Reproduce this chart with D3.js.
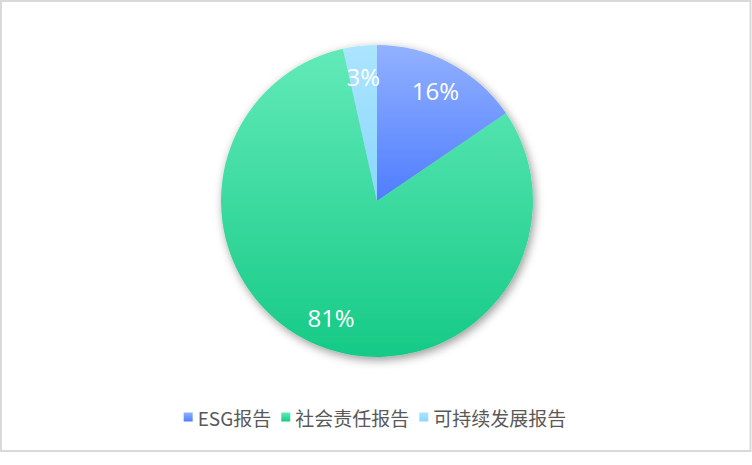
<!DOCTYPE html>
<html>
<head>
<meta charset="utf-8">
<script src="https://cdn.jsdelivr.net/npm/d3@7"></script>
<style>
  html, body { margin: 0; padding: 0; background: #fff; }
  svg { display: block; }
</style>
</head>
<body>
<svg id="chart"></svg>
<script>
'use strict';

var categories = ['ESG报告', '社会责任报告', '可持续发展报告'];
var values = [15.5, 81, 3.5];
var colorTop = ['#92b1ff', '#62eab9', '#abe5ff'];
var colorBottom = ['#4f7dff', '#16ca86', '#8bd6ff'];

var width = 752;
var height = 465;
var cx = 377;
var cy = 201;
var radius = 156;

var svg = d3.select('#chart')
  .attr('width', width)
  .attr('height', height);

// frame
svg.append('rect')
  .attr('x', 1)
  .attr('y', 1)
  .attr('width', 749.5)
  .attr('height', 450)
  .attr('fill', '#fff')
  .attr('stroke', '#d9d9d9')
  .attr('stroke-width', 2);

var defs = svg.append('defs');

var shadow = defs.append('filter')
  .attr('id', 'pie-shadow')
  .attr('x', '-20%').attr('y', '-20%')
  .attr('width', '140%').attr('height', '140%');
shadow.append('feDropShadow')
  .attr('dx', 2)
  .attr('dy', 3)
  .attr('stdDeviation', 5)
  .attr('flood-color', '#000')
  .attr('flood-opacity', 0.4);

categories.forEach(function(name, i) {
  var grad = defs.append('linearGradient')
    .attr('id', 'grad-' + i)
    .attr('x1', 0).attr('y1', 0)
    .attr('x2', 0).attr('y2', 1);
  grad.append('stop').attr('offset', '0%').attr('stop-color', colorTop[i]);
  grad.append('stop').attr('offset', '100%').attr('stop-color', colorBottom[i]);
});

// percentages rounded so that they still add up to 100 (largest remainder)
function roundedPercents(vals) {
  var total = d3.sum(vals);
  var raw = vals.map(function(v) { return v * 100 / total; });
  var floors = raw.map(Math.floor);
  var left = 100 - d3.sum(floors);
  var order = d3.range(raw.length).sort(function(a, b) {
    var diff = (raw[b] - floors[b]) - (raw[a] - floors[a]);
    return Math.abs(diff) < 1e-9 ? a - b : diff;
  });
  for (var k = 0; k < left; k++) floors[order[k]] += 1;
  return floors;
}

var percents = roundedPercents(values);

var pie = d3.pie().sort(null).value(function(d) { return d; });
var arcs = pie(values);

var arc = d3.arc().innerRadius(0).outerRadius(radius);
var labelArc = d3.arc().innerRadius(radius * 0.8).outerRadius(radius * 0.8);

var g = svg.append('g')
  .attr('transform', 'translate(' + cx + ',' + cy + ')');

g.append('g')
  .attr('filter', 'url(#pie-shadow)')
  .selectAll('path')
  .data(arcs)
  .enter().append('path')
  .attr('d', arc)
  .attr('fill', function(d, i) { return 'url(#grad-' + i + ')'; });

g.selectAll('text.pct')
  .data(arcs)
  .enter().append('text')
  .attr('class', 'pct')
  .attr('transform', function(d) { return 'translate(' + labelArc.centroid(d) + ')'; })
  .attr('text-anchor', 'middle')
  .attr('dominant-baseline', 'central')
  .attr('fill', '#fff')
  .style('font-family', '"Open Sans", "Noto Sans", sans-serif')
  .style('font-size', '24px')
  .text(function(d, i) { return percents[i] + '%'; });

// legend, centred under the pie
var legend = svg.append('g');
var itemGap = 10;
var iconSize = 9;
var iconGap = 5;

var items = legend.selectAll('g.item')
  .data(categories)
  .enter().append('g')
  .attr('class', 'item');

items.append('rect')
  .attr('width', iconSize)
  .attr('height', iconSize)
  .attr('y', -iconSize / 2)
  .attr('fill', function(d, i) { return 'url(#grad-' + i + ')'; });

items.append('text')
  .attr('x', iconSize + iconGap)
  .attr('dominant-baseline', 'central')
  .attr('fill', '#595959')
  .style('font-family', '"Noto Sans CJK SC", "Open Sans", sans-serif')
  .style('font-size', '19px')
  .text(function(d) { return d; });

var offset = 0;
items.each(function() {
  var w = iconSize + iconGap + this.querySelector('text').getComputedTextLength();
  d3.select(this).attr('transform', 'translate(' + offset + ',0)');
  offset += w + itemGap;
});
var legendWidth = offset - itemGap;
legend.attr('transform', 'translate(' + (375 - legendWidth / 2) + ',417)');
</script>
</body>
</html>
